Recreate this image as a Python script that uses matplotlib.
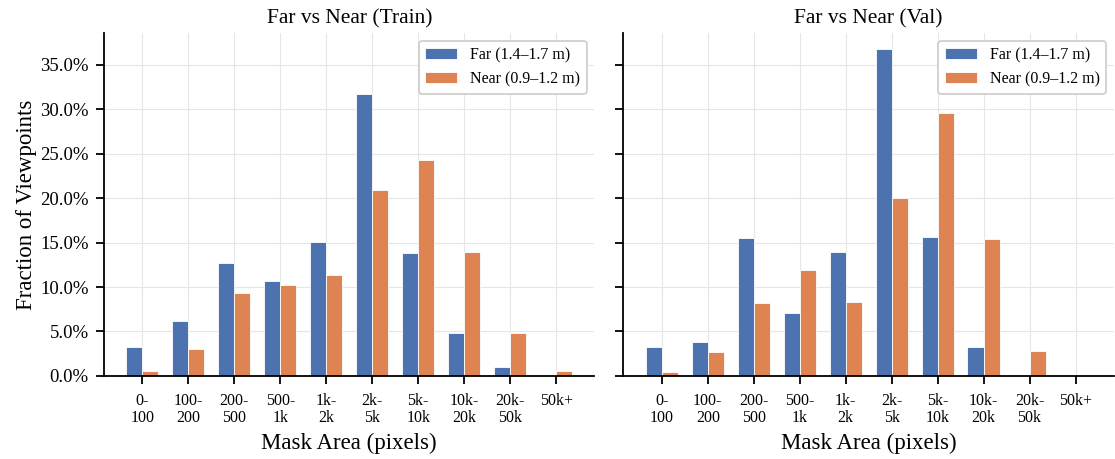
import numpy as np
import matplotlib
matplotlib.use('Agg')
import matplotlib.pyplot as plt
from matplotlib.ticker import PercentFormatter

plt.rcParams['font.family'] = ['Liberation Serif', 'DejaVu Serif']

# Данные (доли точек обзора, %)
bins = ['0-\n100', '100-\n200', '200-\n500', '500-\n1k', '1k-\n2k',
        '2k-\n5k', '5k-\n10k', '10k-\n20k', '20k-\n50k', '50k+']

train_far = [3.2, 6.15, 12.75, 10.65, 15.1, 31.7, 13.8, 4.85, 1.05, 0.0]
train_near = [0.55, 3.05, 9.35, 10.2, 11.4, 20.95, 24.35, 13.9, 4.85, 0.55]

val_far = [3.3, 3.85, 15.5, 7.1, 14.0, 36.75, 15.65, 3.2, 0.0, 0.0]
val_near = [0.4, 2.7, 8.2, 11.95, 8.35, 20.0, 29.55, 15.45, 2.75, 0.0]

far_label = 'Far (1.4\u20131.7 m)'
near_label = 'Near (0.9\u20131.2 m)'
BLUE = '#4C72B0'
ORANGE = '#DD8452'


def draw_panel(ax, far, near, title):
    x = np.arange(len(bins))
    w = 0.35
    ax.bar(x - w / 2, far, w, color=BLUE, edgecolor='white', linewidth=0.6,
           label=far_label, zorder=2)
    ax.bar(x + w / 2, near, w, color=ORANGE, edgecolor='white', linewidth=0.6,
           label=near_label, zorder=2)
    ax.set_xticks(x)
    ax.set_xticklabels(bins, fontsize=11.5, linespacing=1.1)
    ax.set_title(title, fontsize=15.5, pad=7)
    ax.set_xlabel('Mask Area (pixels)', fontsize=16.5, labelpad=5)
    ax.grid(True, color='#e6e6e6', linewidth=0.8, zorder=0)
    ax.set_axisbelow(True)
    for s in ['top', 'right']:
        ax.spines[s].set_visible(False)
    for s in ['left', 'bottom']:
        ax.spines[s].set_linewidth(1.3)
        ax.spines[s].set_zorder(3)
    ax.tick_params(direction='out', length=6, width=1.3)
    ax.tick_params(axis='x', pad=6)
    ax.tick_params(axis='y', labelsize=13.5, pad=5)
    leg = ax.legend(loc='upper right', fontsize=11.5, frameon=True,
                    fancybox=True, edgecolor='#cccccc', framealpha=1)
    leg.get_frame().set_linewidth(1.2)


fig, (ax1, ax2) = plt.subplots(1, 2, figsize=(11.15, 4.59), dpi=100, sharey=True)
draw_panel(ax1, train_far, train_near, 'Far vs Near (Train)')
draw_panel(ax2, val_far, val_near, 'Far vs Near (Val)')
ax1.set_ylabel('Fraction of Viewpoints', fontsize=16.5, labelpad=2)
ax1.yaxis.set_major_formatter(PercentFormatter(decimals=1))
ax1.set_yticks(np.arange(0, 36, 5))

fig.subplots_adjust(left=0.0933, right=0.999, bottom=0.181, top=0.928, wspace=0.059)
fig.savefig('out.png', dpi=100)
